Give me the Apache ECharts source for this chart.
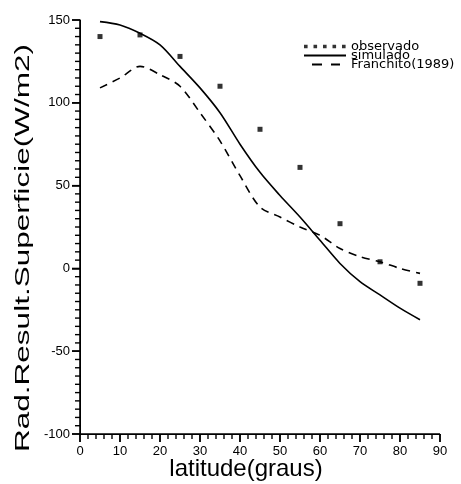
<!DOCTYPE html>
<html>
<head>
<meta charset="utf-8">
<script src="https://cdn.jsdelivr.net/npm/echarts@6/dist/echarts.min.js"></script>
<style>
html,body{margin:0;padding:0;background:#fff;}
#chart{width:461px;height:484px;}
</style>
</head>
<body>
<div id="chart"></div>
<script>
// ---- data ----
const xTicks = [0, 10, 20, 30, 40, 50, 60, 70, 80, 90];
const yTicks = [-100, -50, 0, 50, 100, 150];
const xMinorStep = 2;   // minor tick spacing on the latitude axis
const yMinorStep = 5;   // minor tick spacing on the radiation axis

const obsLat = [5, 15, 25, 35, 45, 55, 65, 75, 85];
const obsVal = [140, 141, 128, 110, 84, 61, 27, 4, -9];

const simLat = [5, 10, 15, 20, 25, 30, 35, 40, 45, 50, 55, 60, 65, 70, 75, 80, 85];
const simVal = [149, 147, 142, 135, 122, 109, 94, 75, 58, 44, 31, 17, 3, -8, -16, -24, -31];

const fraLat = [5, 10, 15, 20, 25, 30, 35, 40, 45, 50, 55, 60, 65, 70, 75, 80, 85];
const fraVal = [109, 115, 122, 117, 110, 94, 77, 56, 37, 31, 25, 20, 12, 7, 4, 0, -3];

const seriesNames = ['observado', 'simulado', 'Franchito(1989)'];
const xTitle = 'latitude(graus)';
const yTitle = 'Rad.Result.Superficie(W/m2)';

const zip = (a, b) => a.map((v, i) => [v, b[i]]);
const INK = '#000';
const FONT = 'Liberation Sans, Arial, sans-serif';
const LFONT = 'DejaVu Sans, sans-serif';
const X0 = xTicks[0], X1 = xTicks[xTicks.length - 1];
const Y0 = yTicks[0], Y1 = yTicks[yTicks.length - 1];

// legend icons (anchored to a 42x9 box so they are not distorted)
const A = 'M0,0h0.01v0.01h-0.01zM42,9h-0.01v-0.01h0.01z';
const iconObs = 'path://' + A + 'M0,2.7h3.6v3.6h-3.6zM9.5,2.7h3.6v3.6h-3.6zM19,2.7h3.6v3.6h-3.6zM28.5,2.7h3.6v3.6h-3.6zM38,2.7h3.6v3.6h-3.6z';
const iconSim = 'path://' + A + 'M0,3.6h42v1.9h-42z';
const iconFra = 'path://' + A + 'M8,3.6h10v1.9h-10zM27,3.6h9v1.9h-9z';

const titleGraphics = [
  {id: 'ytitle', type: 'text', x: 23, y: 248, rotation: Math.PI / 2, scaleX: 1.5, scaleY: 1,
    style: {text: yTitle, font: '21px ' + FONT, fill: INK, align: 'center', verticalAlign: 'middle'}},
  {id: 'xtitle', type: 'text', x: 246, y: 469,
    style: {text: xTitle, font: '24px ' + FONT, fill: INK, align: 'center', verticalAlign: 'middle'}}
];

const chart = echarts.init(document.getElementById('chart'), null, {renderer: 'canvas'});
chart.setOption({
  animation: false,
  grid: {left: 80, right: 21, top: 20, bottom: 50},
  legend: {
    left: 304, top: 40, orient: 'vertical', itemGap: -4, padding: 0,
    itemWidth: 42, itemHeight: 9, selectedMode: false,
    itemStyle: {borderWidth: 0},
    textStyle: {fontFamily: LFONT, fontSize: 13, color: INK, lineHeight: 9},
    data: [
      {name: seriesNames[0], icon: iconObs},
      {name: seriesNames[1], icon: iconSim},
      {name: seriesNames[2], icon: iconFra}
    ]
  },
  xAxis: {
    type: 'value', min: X0, max: X1, interval: 10,
    axisLine: {show: true, onZero: true, onZeroAxisIndex: 1, lineStyle: {color: INK}},
    axisTick: {show: true, length: 8, lineStyle: {color: INK, width: 1.5}},
    splitLine: {show: false},
    axisLabel: {color: INK, fontFamily: FONT, fontSize: 13, margin: 11}
  },
  yAxis: [{
    type: 'value', min: Y0, max: Y1, interval: 50,
    axisLine: {show: true, lineStyle: {color: INK}},
    axisTick: {show: true, length: 8, lineStyle: {color: INK, width: 1.5}},
    splitLine: {show: false},
    axisLabel: {color: INK, fontFamily: FONT, fontSize: 13, margin: 10}
  }, {
    type: 'value', min: 1, max: 2, show: false, splitLine: {show: false}
  }],
  graphic: titleGraphics,
  series: [
    {name: seriesNames[0], type: 'scatter', data: zip(obsLat, obsVal),
      symbol: 'rect', symbolSize: 5, itemStyle: {color: INK}},
    {name: seriesNames[1], type: 'line', data: zip(simLat, simVal), smooth: 0.3,
      showSymbol: false, symbol: 'none', color: INK, lineStyle: {color: INK, width: 1.6, type: 'solid'}},
    {name: seriesNames[2], type: 'line', data: zip(fraLat, fraVal), smooth: 0.3,
      showSymbol: false, symbol: 'none', color: INK, lineStyle: {color: INK, width: 1.6, type: [8, 6]}}
  ]
});

// axis frame and tick marks placed through the chart's own scales
const finder = {xAxisIndex: 0, yAxisIndex: 0};
const tickGraphics = [];
const pushLine = (id, x1, y1, x2, y2, w) => tickGraphics.push({
  id: id, type: 'line', silent: true, z: 100,
  shape: {x1: x1, y1: y1, x2: x2, y2: y2}, style: {stroke: INK, lineWidth: w}
});
const c00 = chart.convertToPixel(finder, [X0, Y0]);
const c10 = chart.convertToPixel(finder, [X1, Y0]);
const c01 = chart.convertToPixel(finder, [X0, Y1]);
pushLine('xaxisline', c00[0], c00[1], c10[0], c10[1], 1.6);
pushLine('yaxisline', c00[0], c00[1], c01[0], c01[1], 1.6);
for (let v = X0, i = 0; v <= X1 + 1e-9; v += xMinorStep, i++) {
  const p = chart.convertToPixel(finder, [v, Y0]);
  const len = xTicks.includes(v) ? 8 : 5;
  pushLine('xt' + i, p[0], p[1], p[0], p[1] + len, 1.4);
}
for (let v = Y0, i = 0; v <= Y1 + 1e-9; v += yMinorStep, i++) {
  const p = chart.convertToPixel(finder, [X0, v]);
  const len = yTicks.includes(v) ? 8 : 5;
  pushLine('yt' + i, p[0], p[1], p[0] - len, p[1], 1.4);
}
chart.setOption({graphic: titleGraphics.concat(tickGraphics)});
</script>
</body>
</html>
